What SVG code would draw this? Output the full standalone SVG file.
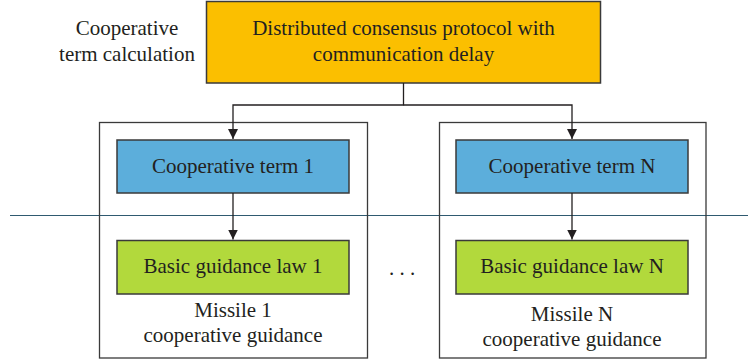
<svg xmlns="http://www.w3.org/2000/svg" width="748" height="364" viewBox="0 0 748 364">
<style>
text{font-family:"Liberation Serif","DejaVu Serif",serif;font-size:21px;fill:#231f20;text-anchor:middle}
.box{stroke:#3a3a3a;stroke-width:1.5}
.frame{fill:none;stroke:#3a3a3a;stroke-width:1.3}
.c{fill:none;stroke:#231f20;stroke-width:1.3}
</style>
<defs>
<marker id="ah" viewBox="0 0 10 10" refX="10" refY="5" markerWidth="10" markerHeight="10" markerUnits="userSpaceOnUse" orient="auto">
<path d="M0,0 L10,5 L0,10 z" fill="#231f20"/>
</marker>
</defs>
<rect width="748" height="364" fill="#fff"/>
<line x1="10" y1="215.5" x2="748" y2="215.5" stroke="#2f5a70" stroke-width="1.2"/>
<g id="label-coop">
<text x="127" y="35">Cooperative</text>
<text x="127" y="61">term calculation</text>
</g>
<g id="protocol">
<rect class="box" x="206.5" y="1.5" width="394" height="81.5" fill="#fbbf00"/>
<text x="403.5" y="35">Distributed consensus protocol with</text>
<text x="403.5" y="61">communication delay</text>
</g>
<g id="missile1">
<rect class="frame" x="99.5" y="122.5" width="268" height="235.5"/>
<text x="233" y="317">Missile 1</text>
<text x="233" y="342">cooperative guidance</text>
</g>
<g id="missileN">
<rect class="frame" x="439.5" y="122.5" width="266.5" height="235.5"/>
<text x="572" y="321">Missile N</text>
<text x="572" y="346">cooperative guidance</text>
</g>
<g id="coop1">
<rect class="box" x="117" y="140" width="232" height="53" fill="#5caedb"/>
<text x="233" y="173">Cooperative term 1</text>
</g>
<g id="coopN">
<rect class="box" x="456" y="140" width="232" height="53" fill="#5caedb"/>
<text x="572" y="173">Cooperative term N</text>
</g>
<g id="basic1">
<rect class="box" x="117" y="240.5" width="232" height="53.5" fill="#b2d93c"/>
<text x="233" y="273">Basic guidance law 1</text>
</g>
<g id="basicN">
<rect class="box" x="456" y="240.5" width="232" height="53.5" fill="#b2d93c"/>
<text x="572" y="273">Basic guidance law N</text>
</g>
<g id="dots">
<text x="402" y="275">. . .</text>
</g>
<g id="connectors">
<path class="c" d="M403.5,83 V105 H233 V139" marker-end="url(#ah)"/>
<path class="c" d="M403.5,105 H572 V139" marker-end="url(#ah)"/>
<path class="c" d="M233,193 V239.5" marker-end="url(#ah)"/>
<path class="c" d="M572,193 V239.5" marker-end="url(#ah)"/>
</g>
</svg>
